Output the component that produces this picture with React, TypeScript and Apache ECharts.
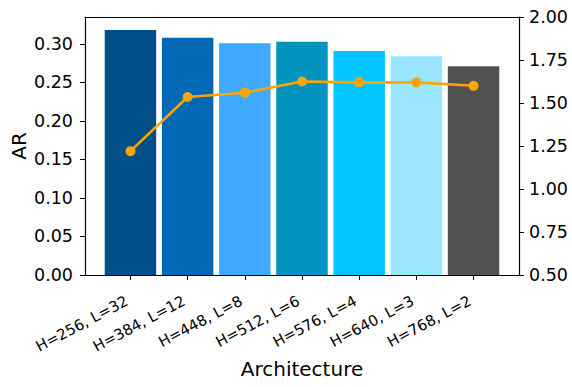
import React, { useEffect, useRef } from "react";
import * as echarts from "echarts";

// Model shapes (hidden size H, number of layers L)
const architectures = [
  "H=256, L=32",
  "H=384, L=12",
  "H=448, L=8",
  "H=512, L=6",
  "H=576, L=4",
  "H=640, L=3",
  "H=768, L=2",
];

// AR per architecture (bars, left axis)
const arValues = [0.318, 0.308, 0.301, 0.303, 0.291, 0.284, 0.271];

// Secondary metric per architecture (line, right axis)
const lineValues = [1.22, 1.535, 1.56, 1.625, 1.62, 1.62, 1.6];

const barColors = [
  "#014f87",
  "#0068b4",
  "#3ea9ff",
  "#0094be",
  "#00c5ff",
  "#9be6ff",
  "#525252",
];

const leftTicks = [0, 0.05, 0.1, 0.15, 0.2, 0.25, 0.3];
const categoryPositions = architectures.map((_, i) => i);

const FONT = "DejaVu Sans";

export default function App() {
  const ref = useRef<HTMLDivElement>(null);

  useEffect(() => {
    document.body.style.margin = "0";
    if (!ref.current) return;
    const chart = echarts.init(ref.current, null, { renderer: "svg" });

    const axisLineStyle = { color: "#000", width: 1.2 };
    const xMin = -0.795;
    const xMax = architectures.length - 1 + 0.795;

    chart.setOption({
      animation: false,
      backgroundColor: "#fff",
      textStyle: { fontFamily: FONT },
      grid: {
        left: 85,
        right: 53,
        top: 17,
        bottom: 112,
        containLabel: false,
        outerBoundsMode: "none",
      },
      xAxis: [
        {
          type: "value",
          min: xMin,
          max: xMax,
          position: "bottom",
          name: "Architecture",
          nameLocation: "middle",
          nameGap: 84,
          nameMoveOverlap: false,
          nameTextStyle: { fontSize: 20, color: "#000", fontFamily: FONT },
          axisLine: { show: true, onZero: false, lineStyle: axisLineStyle },
          axisTick: {
            show: true,
            length: 5,
            customValues: categoryPositions,
            lineStyle: { color: "#000", width: 1 },
          },
          axisLabel: {
            show: true,
            customValues: categoryPositions,
            rotate: 28,
            align: "right",
            verticalAlign: "top",
            padding: [0, 8, 0, 0],
            margin: 14.5,
            fontSize: 15,
            color: "#000",
            fontFamily: FONT,
            hideOverlap: false,
            formatter: (v: number) => architectures[Math.round(v)] ?? "",
          },
          splitLine: { show: false },
        },
        {
          type: "value",
          min: xMin,
          max: xMax,
          position: "top",
          axisLine: { show: true, onZero: false, lineStyle: axisLineStyle },
          axisTick: { show: false },
          axisLabel: { show: false },
          splitLine: { show: false },
        },
      ],
      yAxis: [
        {
          type: "value",
          min: 0,
          max: 0.335,
          position: "left",
          name: "AR",
          nameLocation: "middle",
          nameGap: 56,
          nameMoveOverlap: false,
          nameTextStyle: { fontSize: 20, color: "#000", fontFamily: FONT },
          axisLine: { show: true, onZero: false, lineStyle: axisLineStyle },
          axisTick: {
            show: true,
            length: 5,
            customValues: leftTicks,
            lineStyle: { color: "#000", width: 1 },
          },
          axisLabel: {
            customValues: leftTicks,
            margin: 12,
            fontSize: 17.5,
            color: "#000",
            fontFamily: FONT,
            formatter: (v: number) => v.toFixed(2),
          },
          splitLine: { show: false },
        },
        {
          type: "value",
          min: 0.5,
          max: 2.0,
          interval: 0.25,
          position: "right",
          axisLine: { show: true, onZero: false, lineStyle: axisLineStyle },
          axisTick: { show: true, length: 5, lineStyle: { color: "#000", width: 1 } },
          axisLabel: {
            margin: 10,
            fontSize: 17.5,
            color: "#000",
            fontFamily: FONT,
            formatter: (v: number) => v.toFixed(2),
          },
          splitLine: { show: false },
        },
      ],
      series: [
        {
          type: "bar",
          xAxisIndex: 0,
          yAxisIndex: 0,
          barWidth: "90%",
          data: arValues.map((v, i) => ({
            value: [i, v],
            itemStyle: { color: barColors[i] },
          })),
        },
        {
          type: "line",
          xAxisIndex: 0,
          yAxisIndex: 1,
          data: lineValues.map((v, i) => [i, v]),
          symbol: "circle",
          symbolSize: 10,
          lineStyle: { color: "#ffa500", width: 2.6 },
          itemStyle: { color: "#ffa500" },
          z: 5,
        },
      ],
    });

    return () => chart.dispose();
  }, []);

  return <div ref={ref} style={{ width: 572, height: 387 }} />;
}
